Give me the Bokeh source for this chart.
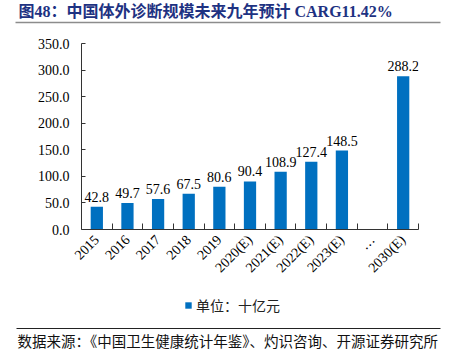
import math
from bokeh.plotting import figure
from bokeh.core.properties import value
from bokeh.models import (Range1d, FixedTicker, NumeralTickFormatter, Legend,
                          LegendItem, ColumnDataSource)
from bokeh.embed import file_html
from bokeh.resources import INLINE

categories = ["2015", "2016", "2017", "2018", "2019", "2020(E)", "2021(E)",
              "2022(E)", "2023(E)", "…", "2030(E)"]
values = [42.8, 49.7, 57.6, 67.5, 80.6, 90.4, 108.9, 127.4, 148.5, None, 288.2]
y_ticks = [0, 50, 100, 150, 200, 250, 300, 350]
title_text = "图48：中国体外诊断规模未来九年预计 CARG11.42%"
legend_text = "单位：十亿元"
source_text = "数据来源：《中国卫生健康统计年鉴》、灼识咨询、开源证券研究所"

BAR = "#0070C0"
SERIF = "Liberation Serif"
CJK = "Noto Sans CJK SC"
W = 449

# ---------- header ----------
HH = 30
head = figure(width=W, height=HH, output_backend="svg", toolbar_location=None,
              x_range=Range1d(0, W), y_range=Range1d(0, HH),
              x_axis_type=None, y_axis_type=None, min_border=0)
head.outline_line_color = None
head.grid.visible = False
head.text(x=[18], y=[HH - 11], text=[title_text], text_align="left",
          text_baseline="middle", text_font=value(f"'{SERIF}', '{CJK}'"),
          text_font_style="bold", text_font_size="16px", text_color="#1E3282")
head.segment(x0=[15], y0=[HH - 22], x1=[440], y1=[HH - 22],
             line_color="#8c8c8c", line_width=1.5)

# ---------- chart ----------
centers = [i + 0.5 for i in range(len(categories))]
bx, bt, bl = [], [], []
for c, v in zip(centers, values):
    if v is not None:
        bx.append(c)
        bt.append(v)
        bl.append(f"{v:.1f}")
src = ColumnDataSource(dict(x=bx, top=bt, label=bl))

p = figure(width=W, height=265, output_backend="svg", toolbar_location=None,
           x_range=Range1d(0, len(categories)), y_range=Range1d(0, 350),
           min_border_left=81, min_border_right=31, min_border_top=13,
           min_border_bottom=66)
p.outline_line_color = None
p.grid.visible = False

p.vbar(x="x", top="top", width=0.4, source=src, fill_color=BAR, line_color=None)
p.text(x="x", y="top", text="label", source=src, text_align="center",
       text_baseline="bottom", y_offset=-5, text_font=value(SERIF),
       text_font_size="14px", text_color="#000000")

xa = p.xaxis[0]
xa.ticker = FixedTicker(ticks=centers, minor_ticks=list(range(1, len(categories) + 1)))
xa.major_label_overrides = {c: lab for c, lab in zip(centers, categories)}
xa.major_label_orientation = math.pi / 4
xa.major_tick_in = 0
xa.major_tick_out = 0
xa.minor_tick_in = 6
xa.minor_tick_out = 0
xa.minor_tick_line_color = "#333333"
xa.axis_line_color = "#333333"
xa.major_label_text_font = SERIF
xa.major_label_text_font_size = "14px"
xa.major_label_text_color = "#000000"
xa.major_label_standoff = 8

ya = p.yaxis[0]
ya.ticker = FixedTicker(ticks=y_ticks)
ya.formatter = NumeralTickFormatter(format="0.0")
ya.major_tick_in = 4
ya.major_tick_out = 0
ya.minor_tick_line_color = None
ya.major_tick_line_color = "#333333"
ya.axis_line_color = "#333333"
ya.major_label_text_font = SERIF
ya.major_label_text_font_size = "14px"
ya.major_label_text_color = "#000000"
ya.major_label_standoff = 12

# ---------- footer ----------
FH = 61
foot = figure(width=W, height=FH, output_backend="svg", toolbar_location=None,
              x_range=Range1d(0, W), y_range=Range1d(0, FH),
              x_axis_type=None, y_axis_type=None, min_border=0)
foot.outline_line_color = None
foot.grid.visible = False
# legend proxy: a zero-height bar kept outside the visible range
key = foot.vbar(x=[-50], top=[0], width=1, fill_color=BAR, line_color=None)
legend = Legend(items=[LegendItem(label=legend_text, renderers=[key])],
                location=(184, FH - 8 - 12), orientation="horizontal",
                padding=0, margin=0, spacing=0, border_line_color=None,
                background_fill_alpha=0, glyph_width=8, glyph_height=8,
                label_height=16, label_standoff=4,
                label_text_font=CJK, label_text_font_size="14px",
                label_text_color="#222222")
foot.add_layout(legend, "center")
foot.segment(x0=[16], y0=[FH - 33], x1=[440], y1=[FH - 33],
             line_color="#222222", line_width=1)
foot.text(x=[17], y=[FH - 45], text=[source_text], text_align="left",
          text_baseline="middle", text_font=value(CJK),
          text_font_size="14.5px", text_color="#111111")

open("out.html", "w").write(file_html([head, p, foot], INLINE))
